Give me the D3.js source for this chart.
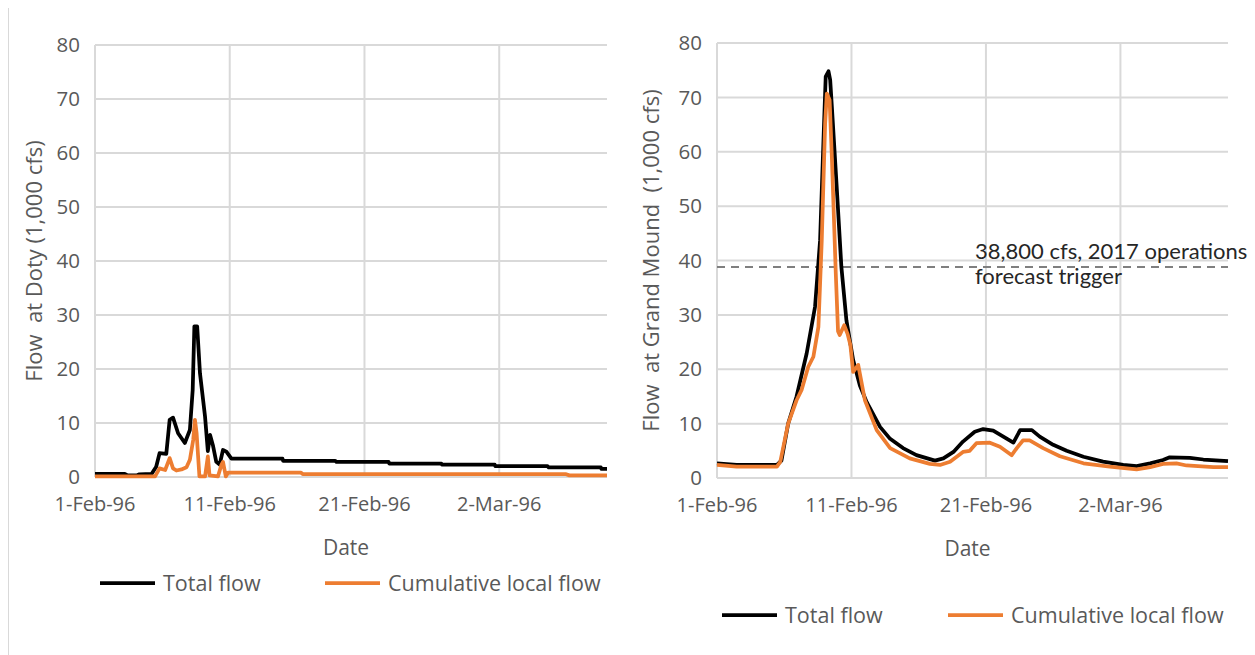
<!DOCTYPE html>
<html>
<head>
<meta charset="utf-8">
<script src="https://cdn.jsdelivr.net/npm/d3@7"></script>
<style>
  html, body { margin: 0; padding: 0; background: #fff; }
  svg { display: block; }
  .tick-label, .axis-title, .legend-label { font-family: "Open Sans", "Noto Sans", sans-serif; fill: #595959; }
  .note { font-family: Lato, "Noto Sans", sans-serif; fill: #262626; }
</style>
</head>
<body>
<svg id="chart" width="1255" height="655"></svg>
<script>
// Flow in 1,000 cfs, keyed by days elapsed since 1-Feb-96.

// Doty — total flow
const dotyTotalDays = [0, 2.2, 2.4, 3.1, 3.3, 4.2, 4.56, 4.81, 5.3, 5.55, 5.8, 6.17, 6.67, 7.04, 7.24, 7.36, 7.58, 7.78, 8.15, 8.39, 8.55, 8.76, 9.01, 9.26, 9.5, 9.76, 10.13, 13.9, 13.95, 17.85, 17.9, 21.8, 21.85, 25.7, 25.75, 29.65, 29.7, 33.6, 33.65, 37.55, 37.6, 38];
const dotyTotalFlow = [0.6, 0.6, 0.3, 0.3, 0.5, 0.6, 1.9, 4.4, 4.3, 10.6, 11.0, 8.1, 6.3, 8.7, 16.1, 27.9, 27.9, 19.2, 11.2, 4.8, 7.8, 5.9, 2.8, 2.3, 5.0, 4.7, 3.4, 3.4, 3.0, 3.0, 2.8, 2.8, 2.5, 2.5, 2.3, 2.3, 2.0, 2.0, 1.8, 1.8, 1.5, 1.5];

// Doty — cumulative local flow
const dotyLocalDays = [0, 4.44, 4.81, 5.19, 5.56, 5.8, 6.05, 6.42, 6.79, 7.04, 7.28, 7.41, 7.53, 7.73, 8.15, 8.39, 8.52, 9.13, 9.39, 9.5, 9.7, 9.87, 15.3, 15.43, 34.9, 35.2, 38];
const dotyLocalFlow = [0.1, 0.1, 1.6, 1.3, 3.5, 1.6, 1.2, 1.4, 1.8, 3.2, 6.9, 10.6, 8.1, 0.1, 0.1, 3.8, 0.3, 0.1, 2.2, 2.8, 0.1, 0.8, 0.8, 0.55, 0.55, 0.3, 0.3];

// Grand Mound — total flow
const moundTotalDays = [0, 1.46, 4.44, 4.81, 5.3, 5.93, 6.67, 7.29, 7.66, 7.9, 8.1, 8.28, 8.4, 8.53, 8.9, 9.27, 9.64, 10.13, 10.63, 11.13, 12.12, 12.86, 13.85, 14.85, 16.21, 16.83, 17.57, 18.31, 19.18, 19.8, 20.54, 21.29, 22.03, 22.53, 23.4, 24.01, 25.0, 26.0, 27.23, 28.72, 30.21, 31.2, 32.19, 33.18, 33.68, 35.17, 36.16, 38];
const moundTotalFlow = [2.7, 2.4, 2.4, 3.2, 10.0, 15.0, 22.9, 31.5, 43.7, 62.0, 73.8, 74.8, 73.2, 68.3, 52.9, 38.8, 29.0, 21.7, 17.0, 14.0, 9.4, 7.2, 5.5, 4.2, 3.2, 3.6, 4.8, 6.7, 8.5, 9.0, 8.7, 7.6, 6.5, 8.8, 8.8, 7.6, 6.1, 5.0, 3.9, 3.0, 2.4, 2.2, 2.7, 3.3, 3.8, 3.7, 3.4, 3.1];

// Grand Mound — cumulative local flow
const moundLocalDays = [0, 1.46, 4.44, 4.7, 5.06, 5.3, 5.93, 6.3, 6.8, 7.17, 7.54, 7.8, 8.04, 8.16, 8.36, 8.53, 8.65, 8.85, 8.98, 9.14, 9.45, 9.7, 9.92, 10.13, 10.5, 11.0, 11.87, 12.86, 14.35, 15.84, 16.58, 17.32, 18.31, 18.81, 19.31, 20.3, 21.04, 21.91, 22.28, 22.77, 23.27, 24.26, 25.5, 27.23, 29.22, 31.2, 32.19, 33.18, 34.17, 34.92, 36.9, 38];
const moundLocalFlow = [2.4, 2.1, 2.1, 3.0, 7.0, 10.0, 14.3, 16.2, 20.5, 22.3, 27.8, 43.8, 65.2, 70.7, 69.5, 59.0, 49.9, 37.6, 27.0, 26.3, 28.1, 26.5, 24.5, 19.5, 20.8, 14.3, 8.8, 5.5, 3.6, 2.6, 2.4, 3.0, 4.8, 5.0, 6.4, 6.5, 5.75, 4.2, 5.5, 6.9, 6.9, 5.5, 4.0, 2.7, 2.1, 1.6, 2.0, 2.6, 2.7, 2.3, 2.0, 2.0];

// Axis ticks
const yTicks = [0, 10, 20, 30, 40, 50, 60, 70, 80];
const xTickLabels = ["1-Feb-96", "11-Feb-96", "21-Feb-96", "2-Mar-96"];
const xTickDays = [0, 10, 20, 30];
const dateRangeDays = [0, 38];

// Reference line
const triggerFlow = 38.8;
const triggerText = ["38,800 cfs, 2017 operations", "forecast trigger"];

const seriesNames = ["Total flow", "Cumulative local flow"];
const seriesColors = ["#000000", "#ED7D31"];

const start = new Date(1996, 1, 1);
const toDate = d => new Date(start.getTime() + Math.round(d * 24) * 3600 * 1000);

const svg = d3.select("#chart");

// page-edge rule
svg.append("line").attr("x1", 8.5).attr("x2", 8.5).attr("y1", 8).attr("y2", 655)
  .attr("stroke", "#d9d9d9").attr("stroke-width", 1);

function drawPanel(cfg) {
  const x = d3.scaleTime().domain(dateRangeDays.map(toDate)).range([cfg.left, cfg.right]);
  const y = d3.scaleLinear().domain([0, 80]).range([cfg.bottom, cfg.top]);
  const g = svg.append("g");

  // horizontal gridlines
  g.append("g").selectAll("line").data(yTicks).join("line")
    .attr("x1", cfg.left).attr("x2", cfg.right)
    .attr("y1", d => y(d)).attr("y2", d => y(d))
    .attr("stroke", "#d9d9d9").attr("stroke-width", 2);

  // vertical gridlines at date ticks
  g.append("g").selectAll("line").data(xTickDays).join("line")
    .attr("x1", d => x(toDate(d))).attr("x2", d => x(toDate(d)))
    .attr("y1", cfg.top).attr("y2", cfg.bottom)
    .attr("stroke", "#d9d9d9").attr("stroke-width", 2);

  // y tick labels
  g.append("g").selectAll("text").data(yTicks).join("text")
    .attr("class", "tick-label")
    .attr("x", cfg.left - 15).attr("y", d => y(d))
    .attr("dy", "0.35em").attr("text-anchor", "end")
    .attr("font-size", 20.5).text(d => d);

  // x tick labels
  g.append("g").selectAll("text").data(xTickDays).join("text")
    .attr("class", "tick-label")
    .attr("x", d => x(toDate(d))).attr("y", cfg.bottom + 34)
    .attr("text-anchor", "middle").attr("font-size", 20)
    .text((d, i) => xTickLabels[i]);

  // axis titles
  g.append("text").attr("class", "axis-title")
    .attr("x", (cfg.left + cfg.right) / 2 - 5).attr("y", cfg.bottom + 78)
    .attr("text-anchor", "middle").attr("font-size", 21).text("Date");
  g.append("text").attr("class", "axis-title")
    .attr("transform", `translate(${cfg.titleX},${(cfg.top + cfg.bottom) / 2}) rotate(-90)`)
    .attr("text-anchor", "middle").attr("dy", "0.35em")
    .attr("font-size", 22).attr("xml:space", "preserve").style("white-space", "pre")
    .text(cfg.yTitle);

  if (cfg.trigger) {
    g.append("line")
      .attr("x1", cfg.left).attr("x2", cfg.right)
      .attr("y1", y(triggerFlow)).attr("y2", y(triggerFlow))
      .attr("stroke", "#7f7f7f").attr("stroke-width", 2).attr("stroke-dasharray", "8,6");
    g.append("g").selectAll("text").data(triggerText).join("text")
      .attr("class", "note").attr("font-size", 22)
      .attr("x", 975).attr("y", (d, i) => y(triggerFlow) - 8 + i * 25)
      .text(d => d);
  }

  const line = d3.line().x(d => x(toDate(d[0]))).y(d => y(d[1]));
  const series = [
    d3.zip(cfg.totalDays, cfg.totalFlow),
    d3.zip(cfg.localDays, cfg.localFlow)
  ];
  g.append("g").selectAll("path").data(series).join("path")
    .attr("d", line).attr("fill", "none")
    .attr("stroke", (d, i) => seriesColors[i])
    .attr("stroke-width", 3.75).attr("stroke-linejoin", "round");

  // legend
  const lg = g.append("g").selectAll("g").data(seriesNames).join("g")
    .attr("transform", (d, i) => `translate(${cfg.legendX[i]},${cfg.legendY})`);
  lg.append("line").attr("x1", 0).attr("x2", 55).attr("y1", 0).attr("y2", 0)
    .attr("stroke", (d, i) => seriesColors[i]).attr("stroke-width", 3.75);
  lg.append("text").attr("class", "legend-label").attr("x", 63).attr("dy", "0.35em")
    .attr("font-size", 21.5).text(d => d);
}

drawPanel({
  left: 95, right: 607, top: 45, bottom: 477, titleX: 34,
  yTitle: "Flow  at Doty (1,000 cfs)",
  totalDays: dotyTotalDays, totalFlow: dotyTotalFlow,
  localDays: dotyLocalDays, localFlow: dotyLocalFlow,
  legendX: [100, 325], legendY: 583
});

drawPanel({
  left: 717, right: 1228, top: 43, bottom: 478, titleX: 651,
  yTitle: "Flow  at Grand Mound  (1,000 cfs)",
  totalDays: moundTotalDays, totalFlow: moundTotalFlow,
  localDays: moundLocalDays, localFlow: moundLocalFlow,
  legendX: [722, 948], legendY: 615, trigger: true
});
</script>
</body>
</html>
